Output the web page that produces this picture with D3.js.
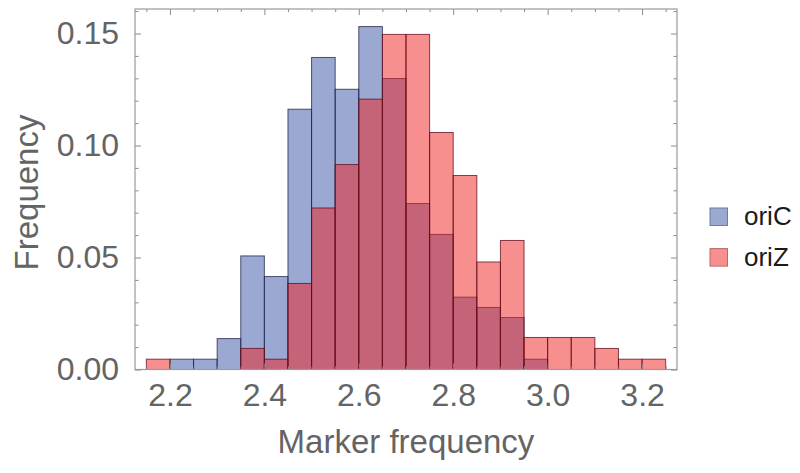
<!DOCTYPE html>
<html>
<head>
<meta charset="utf-8">
<script src="https://cdn.jsdelivr.net/npm/d3@7"></script>
<style>
  html, body { margin: 0; padding: 0; background: #fff; }
  svg { display: block; font-family: "Liberation Sans", Arial, sans-serif; }
</style>
</head>
<body>
<svg id="chart" width="800" height="473"></svg>
<script>
// ---- data ----
const binStarts = [2.15, 2.20, 2.25, 2.30, 2.35, 2.40, 2.45, 2.50, 2.55, 2.60, 2.65,
                   2.70, 2.75, 2.80, 2.85, 2.90, 2.95, 3.00, 3.05, 3.10, 3.15, 3.20];
const binWidth = 0.05;
const oriC = [0, 0.0046, 0.0046, 0.0138, 0.0507, 0.0415, 0.1162, 0.1393, 0.1251, 0.1531, 0.1299,
              0.0741, 0.0603, 0.0323, 0.0277, 0.0232, 0.0046, 0, 0, 0, 0, 0];
const oriZ = [0.0046, 0, 0, 0, 0.0094, 0.0046, 0.0384, 0.0721, 0.0915, 0.1207, 0.1496,
              0.1496, 0.1058, 0.0866, 0.0480, 0.0576, 0.0143, 0.0143, 0.0143, 0.0094, 0.0046, 0.0046];
const seriesNames = ["oriC", "oriZ"];
const xTickValues = [2.2, 2.4, 2.6, 2.8, 3.0, 3.2];
const xMinorTicks = [2.15, 2.25, 2.3, 2.35, 2.45, 2.5, 2.55, 2.65, 2.7, 2.75, 2.85, 2.9, 2.95, 3.05, 3.1, 3.15, 3.25];
const yTickValues = [0, 0.05, 0.10, 0.15];
const yMinorTicks = [0.01, 0.02, 0.03, 0.04, 0.06, 0.07, 0.08, 0.09, 0.11, 0.12, 0.13, 0.14, 0.16];
const xLabel = "Marker frequency";
const yLabel = "Frequency";

// ---- layout ----
const L = 135, R = 677, T = 9, B = 369.5;
const svg = d3.select("#chart");
const x = d3.scaleLinear().domain([2.126, 3.274]).range([L, R]);
const y = d3.scaleLinear().domain([0, (B - T) / 2240]).range([B, T]);

const fills = ["rgba(55,81,165,0.5)", "rgba(239,31,31,0.5)"];
const strokes = ["rgba(25,35,70,0.75)", "rgba(95,10,25,0.75)"];
const legendFill = ["#9ba8d2", "#f78f8f"];
const legendStroke = ["#6f7aa3", "#b86a6a"];

// ---- bars ----
[oriC, oriZ].forEach((vals, si) => {
  const data = binStarts.map((s, i) => ({ s, v: vals[i] })).filter(d => d.v > 0);
  svg.append("g").selectAll("rect").data(data).join("rect")
    .attr("x", d => x(d.s))
    .attr("y", d => y(d.v))
    .attr("width", d => x(d.s + binWidth) - x(d.s))
    .attr("height", d => y(0) - y(d.v))
    .attr("fill", fills[si])
    .attr("stroke", strokes[si])
    .attr("stroke-width", 1);
});

// ---- frame and ticks ----
const frameColor = "#9a9a9a";
const tickColor = "#8a8a8a";
const g = svg.append("g");

const xAxisB = d3.axisBottom(x).tickValues(xTickValues).tickSize(-6).tickFormat(d3.format(".1f")).tickPadding(14);
const xAxisBm = d3.axisBottom(x).tickValues(xMinorTicks).tickSize(-3).tickFormat("");
const xAxisT = d3.axisTop(x).tickValues(xTickValues).tickSize(-6).tickFormat("");
const xAxisTm = d3.axisTop(x).tickValues(xMinorTicks).tickSize(-3).tickFormat("");
const yAxisL = d3.axisLeft(y).tickValues(yTickValues).tickSize(-6).tickFormat(d3.format(".2f")).tickPadding(16);
const yAxisLm = d3.axisLeft(y).tickValues(yMinorTicks).tickSize(-3.5).tickFormat("");
const yAxisR = d3.axisRight(y).tickValues(yTickValues).tickSize(-6).tickFormat("");
const yAxisRm = d3.axisRight(y).tickValues(yMinorTicks).tickSize(-3.5).tickFormat("");

function styleAxis(sel) {
  sel.select(".domain").remove();
  sel.selectAll(".tick line").attr("stroke", tickColor).attr("stroke-width", 1);
  sel.selectAll(".tick text").attr("fill", "#646464").style("font-size", "32px")
     .style("font-family", "'Liberation Sans', Arial, sans-serif");
}
g.append("g").attr("transform", `translate(0,${B})`).call(xAxisB).call(styleAxis)
  .selectAll(".tick text").attr("dy", "0.71em");
g.append("g").attr("transform", `translate(0,${B})`).call(xAxisBm).call(styleAxis);
g.append("g").attr("transform", `translate(0,${T})`).call(xAxisT).call(styleAxis);
g.append("g").attr("transform", `translate(0,${T})`).call(xAxisTm).call(styleAxis);
g.append("g").attr("transform", `translate(${L},0)`).call(yAxisL).call(styleAxis);
g.append("g").attr("transform", `translate(${L},0)`).call(yAxisLm).call(styleAxis);
g.append("g").attr("transform", `translate(${R},0)`).call(yAxisR).call(styleAxis);
g.append("g").attr("transform", `translate(${R},0)`).call(yAxisRm).call(styleAxis);

svg.append("rect").attr("x", L).attr("y", T).attr("width", R - L).attr("height", B - T)
  .attr("fill", "none").attr("stroke", frameColor).attr("stroke-width", 1.2);

// ---- axis labels ----
svg.append("text").attr("x", (L + R) / 2).attr("y", 453).attr("text-anchor", "middle")
  .attr("fill", "#646464").style("font-size", "33px").text(xLabel);
svg.append("text").attr("transform", `translate(38,192.5) rotate(-90)`).attr("text-anchor", "middle")
  .attr("fill", "#646464").style("font-size", "33px").text(yLabel);

// ---- legend ----
const leg = svg.append("g");
seriesNames.forEach((name, i) => {
  const yy = 208 + i * 40.6;
  leg.append("rect").attr("x", 710).attr("y", yy).attr("width", 17.5).attr("height", 17.5)
    .attr("fill", legendFill[i]).attr("stroke", legendStroke[i]).attr("stroke-width", 1);
  leg.append("text").attr("x", 744).attr("y", yy + 17.3).attr("fill", "#1a1a1a")
    .style("font-size", "26px").text(name);
});
</script>
</body>
</html>
